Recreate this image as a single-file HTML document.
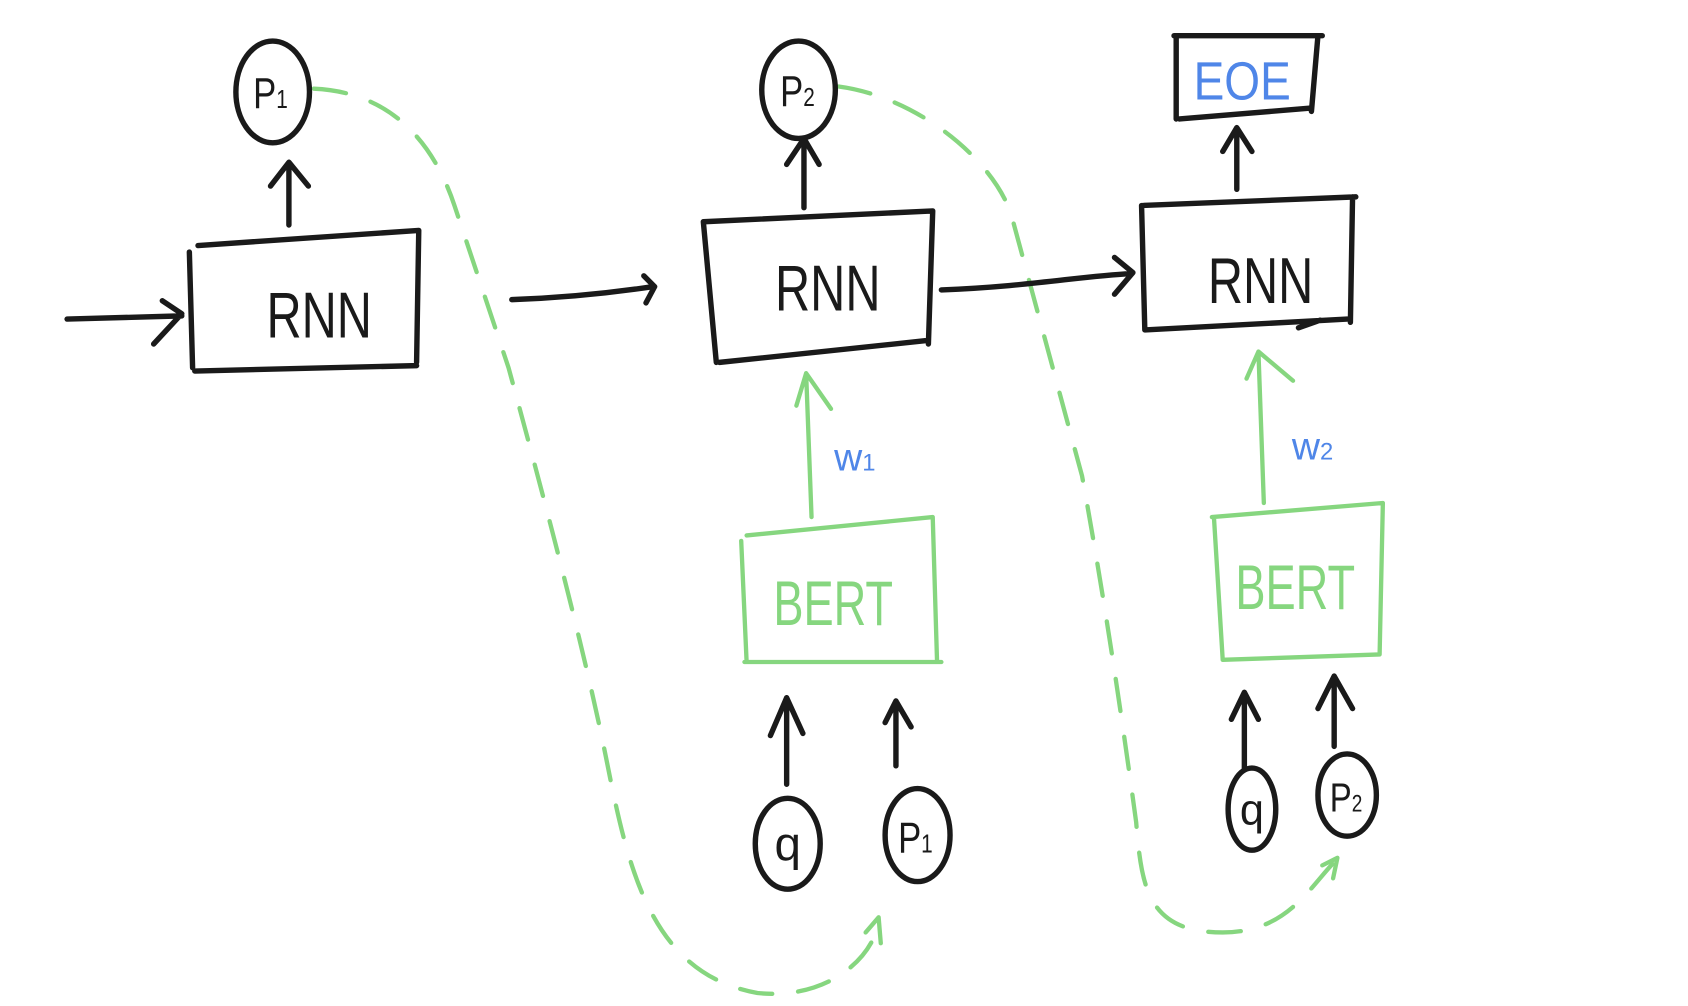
<!DOCTYPE html>
<html><head><style>html,body{margin:0;padding:0;background:#fff}svg{display:block}</style></head>
<body>
<svg width="1688" height="1006" viewBox="0 0 1560 930" preserveAspectRatio="none" xmlns="http://www.w3.org/2000/svg">
<g fill="none" stroke-linecap="round" stroke-linejoin="round">
<g stroke="#86d67f" stroke-width="4" stroke-dasharray="30 24">
<path d="M290,82 C360,85 400,130 420,190 L470,340 C500,450 540,600 560,700 C580,800 600,900 700,918 C770,925 810,880 812,850"/>
<path d="M775,80 C850,90 920,150 935,200 L1000,440 C1020,550 1035,650 1050,760 C1055,820 1060,862 1130,862 C1190,862 1210,820 1235,795"/>
</g>
<path d="M800,862 L812,848 L814,872" stroke="#86d67f" stroke-width="4"/>
<path d="M1222,800 L1236,793 L1232,812" stroke="#86d67f" stroke-width="4"/>
<g stroke="#1a1a1a" stroke-width="5">
<path d="M62,295 L168,292 M150,278 L168,290 L142,318"/>
<path d="M183,227 L387,213 M175,233 L178,340 M387,213 L385,335 M180,343 L385,338"/>
<path d="M267,208 L267,150 M250,172 L267,150 L285,172"/>
<ellipse cx="252" cy="85" rx="34" ry="47"/>
<path d="M473,277 C530,275 570,270 603,265 M595,255 L605,265 L597,280"/>
<path d="M650,205 L862,195 M650,205 L662,335 M862,195 L858,318 M665,335 L855,315"/>
<path d="M743,192 L743,128 M727,152 L743,128 L757,152"/>
<ellipse cx="738" cy="83" rx="34" ry="45"/>
<path d="M870,268 C950,265 1000,255 1045,253 M1030,238 L1047,252 L1030,272"/>
<path d="M1055,190 L1253,182 M1055,190 L1058,305 M1250,182 L1248,298 M1058,305 L1245,295 M1200,303 L1220,296"/>
<path d="M1143,175 L1143,118 M1130,140 L1143,118 L1157,140"/>
<path d="M1085,33 L1222,33 M1087,35 L1087,110 M1218,33 L1212,103 M1090,110 L1210,100"/>
<path d="M727,725 L727,645 M712,680 L727,645 L742,678"/>
<path d="M828,708 L828,648 M818,668 L828,648 L842,672"/>
<ellipse cx="728" cy="780" rx="30" ry="42"/>
<ellipse cx="848" cy="772" rx="30" ry="43"/>
<path d="M1150,710 L1150,640 M1138,665 L1150,640 L1163,665"/>
<path d="M1233,690 L1233,625 M1218,655 L1233,625 L1250,655"/>
<ellipse cx="1157" cy="748" rx="22" ry="38"/>
<ellipse cx="1245" cy="735" rx="27" ry="38"/>
</g>
<g stroke="#86d67f" stroke-width="4">
<path d="M750,478 L745,345 M736,375 L745,345 L768,378"/>
<path d="M690,495 L862,478 M685,500 L690,612 M862,478 L866,612 M688,612 L870,612"/>
<path d="M1168,465 L1163,325 M1152,350 L1163,325 L1195,352"/>
<path d="M1120,478 L1278,465 M1122,480 L1130,610 M1278,465 L1275,605 M1130,610 L1275,605"/>
</g>
</g>
<g font-family="Liberation Sans, sans-serif" text-anchor="middle">
<text x="295" y="312" font-size="60" fill="#1a1a1a" transform="translate(295,290) scale(0.75,1) translate(-295,-290)">RNN</text>
<text x="765" y="287" font-size="60" fill="#1a1a1a" transform="translate(765,265) scale(0.75,1) translate(-765,-265)">RNN</text>
<text x="1165" y="280" font-size="60" fill="#1a1a1a" transform="translate(1165,255) scale(0.75,1) translate(-1165,-255)">RNN</text>
<text x="250" y="100" font-size="40" fill="#1a1a1a" transform="translate(250,85) scale(0.8,1) translate(-250,-85)">P<tspan font-size="24">1</tspan></text>
<text x="737" y="98" font-size="40" fill="#1a1a1a" transform="translate(737,83) scale(0.8,1) translate(-737,-83)">P<tspan font-size="24">2</tspan></text>
<text x="728" y="795" font-size="44" fill="#1a1a1a">q</text>
<text x="846" y="788" font-size="40" fill="#1a1a1a" transform="translate(846,772) scale(0.8,1) translate(-846,-772)">P<tspan font-size="24">1</tspan></text>
<text x="1157" y="762" font-size="40" fill="#1a1a1a">q</text>
<text x="1244" y="750" font-size="38" fill="#1a1a1a" transform="translate(1244,735) scale(0.8,1) translate(-1244,-735)">P<tspan font-size="22">2</tspan></text>
<text x="1148" y="92" font-size="50" fill="#4f86e8" transform="translate(1148,75) scale(0.85,1) translate(-1148,-75)">EOE</text>
<text x="790" y="435" font-size="36" fill="#4f86e8">w<tspan font-size="22">1</tspan></text>
<text x="1213" y="425" font-size="36" fill="#4f86e8">w<tspan font-size="22">2</tspan></text>
<text x="770" y="578" font-size="58" fill="#86d67f" transform="translate(770,555) scale(0.72,1) translate(-770,-555)">BERT</text>
<text x="1197" y="563" font-size="58" fill="#86d67f" transform="translate(1197,540) scale(0.72,1) translate(-1197,-540)">BERT</text>
</g>
</svg>
</body></html>
